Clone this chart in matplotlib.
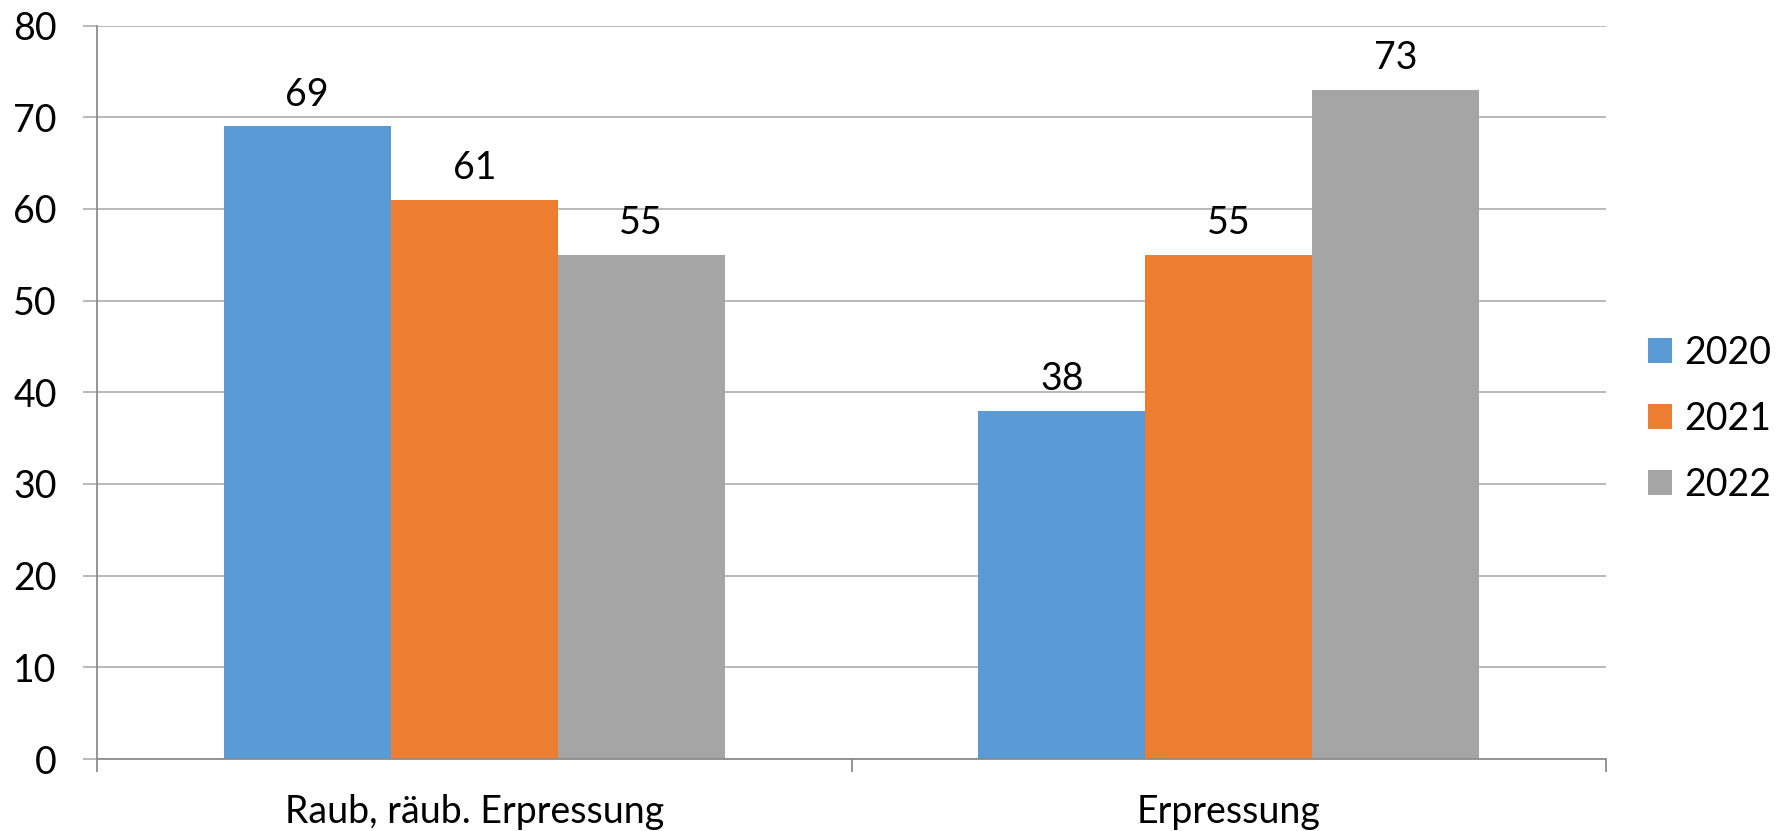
import numpy as np
import matplotlib.pyplot as plt
from matplotlib.patches import Patch

categories = ["Raub, räub. Erpressung", "Erpressung"]
years = ["2020", "2021", "2022"]
values_2020 = [69, 38]
values_2021 = [61, 55]
values_2022 = [55, 73]

colors = ["#5B9BD5", "#ED7D31", "#A5A5A5"]
FS = 27

plt.rcParams["font.family"] = ["Lato", "DejaVu Sans"]
plt.rcParams["font.size"] = FS

fig = plt.figure(figsize=(17.76, 8.31), dpi=100)
ax = fig.add_axes([97 / 1776, 1 - 759 / 831, (1606 - 97) / 1776, (759 - 25.6) / 831])

x = np.arange(len(categories))
width = 0.2213
series = [values_2020, values_2021, values_2022]
for i, (vals, col) in enumerate(zip(series, colors)):
    bars = ax.bar(x + (i - 1) * width, vals, width, color=col, label=years[i], zorder=2)
    ax.bar_label(bars, padding=10, fontsize=FS, color="black")

ax.set_xlim(-0.5, 1.5)
ax.set_ylim(0, 80)
ax.set_yticks(range(0, 81, 10))
ax.grid(axis="y", color="#B3B3B3", linewidth=1.3, zorder=0)
ax.set_axisbelow(True)

for s in ["top", "right"]:
    ax.spines[s].set_visible(False)
for s in ["left", "bottom"]:
    ax.spines[s].set_color("#8C8C8C")
    ax.spines[s].set_linewidth(1.3)

ax.tick_params(axis="y", length=10, width=1.3, color="#B3B3B3", pad=19, labelsize=FS)
ax.set_xticks(x)
ax.set_xticklabels(categories)
ax.tick_params(axis="x", which="major", length=0, pad=25, labelsize=FS)
ax.set_xticks([-0.5, 0.5, 1.5], minor=True)
ax.tick_params(axis="x", which="minor", length=9, width=1.3, color="#8C8C8C")

handles = [Patch(facecolor=c, label=y) for c, y in zip(colors, years)]
fig.legend(handles=handles, loc="center left", bbox_to_anchor=(1648 / 1776, 1 - 419 / 831),
           frameon=False, fontsize=FS, handlelength=0.64, handleheight=0.64,
           handletextpad=0.32, labelspacing=0.8, borderpad=0, borderaxespad=0)

fig.savefig("out.png", dpi=100)
